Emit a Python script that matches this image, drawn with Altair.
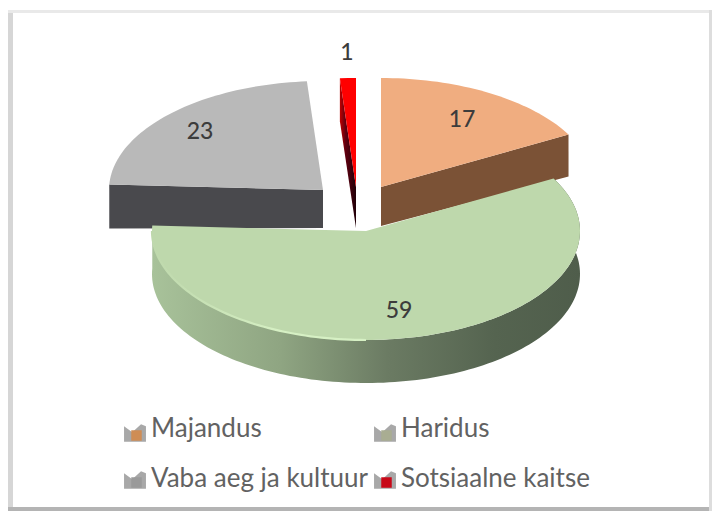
import math
import altair as alt
import pandas as pd

# ---- data ----
categories = ["Majandus", "Haridus", "Vaba aeg ja kultuur", "Sotsiaalne kaitse"]
shares = [17.0, 58.8, 23.0, 1.2]
labels = ["17", "59", "23", "1"]

# ---- layout (image pixels) ----
RX, RY, DEPTH = 214, 109, 43
centers = [(381, 187), (366, 231), (323, 190), (356, 187)]
label_xy = [(462, 120), (399, 311), (200, 132), (347, 53)]
legend_xy = [(135, 434, 151, 429), (385, 434, 401, 429), (135, 481, 151, 479), (385, 481, 401, 479)]
W, H = 704, 503
XS = alt.Scale(domain=[8, 8 + W], zero=False, nice=False)
YS = alt.Scale(domain=[8 + H, 8], zero=False, nice=False)
X = alt.X("x:Q", axis=None, scale=XS)
Y = alt.Y("y:Q", axis=None, scale=YS)


def pt(c, deg, dz=0):
    a = math.radians(deg)
    return (c[0] + RX * math.sin(a), c[1] - RY * math.cos(a) + dz)


def arc(c, a0, a1, dz=0):
    n = max(2, int(abs(a1 - a0) / 1.5))
    return [pt(c, a0 + (a1 - a0) * k / n, dz) for k in range(n + 1)]


def poly(points, fill, sw=0, stroke=None):
    df = pd.DataFrame({"x": [p[0] for p in points], "y": [p[1] for p in points], "i": range(len(points))})
    kw = {"stroke": stroke, "strokeWidth": sw} if stroke else {"strokeOpacity": 0}
    mark = alt.Chart(df).mark_line(fill=fill, **kw) if fill else alt.Chart(df).mark_line(**kw)
    return mark.encode(x=X, y=Y, order=alt.Order("i:Q"))


def grad(*stops, horizontal=True):
    return alt.Gradient(
        gradient="linear",
        x1=0, y1=0, x2=1 if horizontal else 0, y2=0 if horizontal else 1,
        stops=[alt.GradientStop(offset=o, color=c) for o, c in stops],
    )


angles = [0]
for s in shares:
    angles.append(angles[-1] + s * 3.6)
a_or = (angles[0], angles[1])
a_gr = (angles[1], angles[2])
a_gy = (angles[2], angles[3])
a_rd = (angles[3], angles[4])
c_or, c_gr, c_gy, c_rd = centers

layers = []

# frame
frame = pd.DataFrame({
    "x": [8, 8, 8, 709], "x2": [13, 712, 712, 712],
    "y": [10, 10, 507, 10], "y2": [511, 13, 511, 511],
    "c": ["#d6d6d6", "#e9e9e9", "#b4b4b4", "#dddddd"],
})
layers.append(alt.Chart(frame).mark_rect().encode(
    x=X, x2="x2:Q", y=Y, y2="y2:Q", color=alt.Color("c:N", scale=None)))

# gray slice
p0 = pt(c_gy, a_gy[0])
layers.append(poly([p0, (c_gy[0], c_gy[1]), (c_gy[0], c_gy[1] + 38), (p0[0], p0[1] + 44)], "#49494d"))
layers.append(poly([(c_gy[0], c_gy[1])] + arc(c_gy, *a_gy), "#b9b9b9"))

# red slice
p1 = pt(c_rd, a_rd[0])
layers.append(poly([p1, c_rd, (c_rd[0], c_rd[1] + 41), (p1[0], p1[1] + 43)],
                   grad((0, "#c00000"), (0.35, "#600010"), (1, "#200008"))))
layers.append(poly([c_rd] + arc(c_rd, *a_rd), "#ff0000"))

# orange slice
p2 = pt(c_or, a_or[1])
layers.append(poly([c_or, p2, (p2[0], p2[1] + 42), (c_or[0], c_or[1] + 39)], "#7b5236"))
layers.append(poly([c_or] + arc(c_or, *a_or), "#f0ad80"))

# green slice
rim_top = arc(c_gr, a_gr[0], a_gr[1])
rim_bot = arc(c_gr, a_gr[1], a_gr[0], DEPTH)
layers.append(poly(rim_top + rim_bot,
                   grad((0, "#a8c29a"), (0.3, "#8fa582"), (0.55, "#6b7b63"), (0.8, "#556450"), (1, "#4f5d4b"))))
layers.append(poly([c_gr] + rim_top, "#bed8ac"))
layers.append(poly(arc(c_gr, 180, 270), None, sw=2.2, stroke=grad((0, "#bed8ac"), (0.6, "#d6f0c4"), (1, "#d6f0c4"))))

# value labels
lab = pd.DataFrame({"x": [p[0] for p in label_xy], "y": [p[1] for p in label_xy], "t": labels})
layers.append(alt.Chart(lab).mark_text(font="Lato", fontSize=23, color="#3c3c3c", fontWeight=500).encode(
    x=X, y=Y, text="t:N"))

# legend
ICON = "M-1,-0.7 L-0.25,-0.15 L0.55,-0.9 L1,-0.7 L1,0.7 L-1,0.7 Z"
leg = pd.DataFrame({
    "x": [p[0] for p in legend_xy], "y": [p[1] for p in legend_xy],
    "tx": [p[2] for p in legend_xy], "ty": [p[3] for p in legend_xy],
    "t": categories,
    "c": ["#cf8d55", "#a9ad92", "#9a9a9a", "#c80818"],
})
layers.append(alt.Chart(leg).mark_point(shape=ICON, filled=True, size=480, opacity=1, color="#a8a8a8").encode(x=X, y=Y))
layers.append(alt.Chart(leg).transform_calculate(yy="datum.y + 1.5", xx="datum.x + 1.5").mark_point(
    shape="M-1,-1 L1,-1 L1,1 L-1,1 Z", filled=True, size=110, opacity=1).encode(
    x=alt.X("xx:Q", axis=None, scale=XS), y=alt.Y("yy:Q", axis=None, scale=YS), color=alt.Color("c:N", scale=None)))
layers.append(alt.Chart(leg).mark_text(font="Lato", fontSize=26, color="#626262", align="left").encode(
    x=alt.X("tx:Q", axis=None, scale=XS), y=alt.Y("ty:Q", axis=None, scale=YS), text="t:N"))

chart = alt.layer(*layers).properties(width=W, height=H, padding=0, background="#ffffff").configure_view(stroke=None)
chart.save("out.html", embed_options={"renderer": "svg", "actions": False})
